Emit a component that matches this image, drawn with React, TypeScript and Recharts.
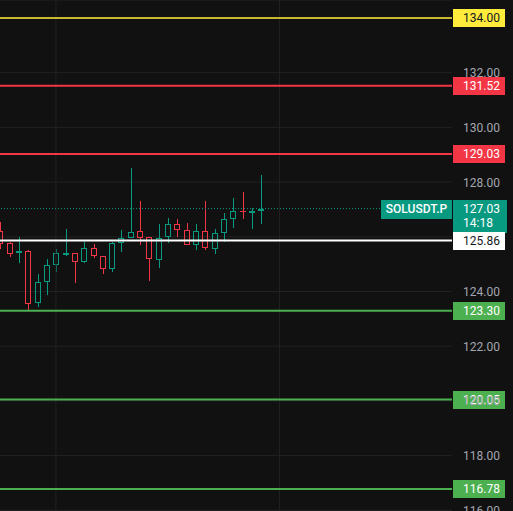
import React from 'react';
import { ComposedChart, Bar, XAxis, YAxis, CartesianGrid, ReferenceLine } from 'recharts';

const opens = [126.21, 125.77, 125.41, 125.48, 123.58, 124.35, 124.97, 125.33, 125.41, 125.08, 125.59, 125.30, 124.82, 125.77, 125.96, 126.21, 126.00, 125.15, 126.00, 126.47, 126.25, 125.70, 126.21, 125.55, 126.14, 126.65, 126.94, 126.91, 126.94];
const closes = [125.74, 125.37, 125.48, 123.54, 124.35, 124.97, 125.41, 125.41, 125.08, 125.59, 125.30, 124.82, 125.77, 125.96, 126.18, 125.96, 125.19, 125.96, 126.47, 126.25, 125.70, 126.21, 125.59, 126.14, 126.65, 126.94, 126.93, 126.94, 127.03];
const highs = [126.54, 125.81, 126.00, 125.52, 124.64, 125.19, 125.55, 126.29, 125.41, 125.81, 125.74, 125.30, 125.81, 126.25, 128.51, 127.31, 126.00, 126.47, 126.69, 126.65, 126.51, 126.47, 127.31, 126.29, 126.87, 127.42, 127.64, 127.05, 128.26];
const lows = [125.55, 125.26, 125.04, 123.29, 123.43, 123.87, 124.71, 125.30, 124.31, 125.04, 125.23, 124.64, 124.71, 125.44, 125.96, 125.70, 124.38, 124.86, 125.77, 126.00, 125.70, 125.52, 125.52, 125.37, 125.81, 126.32, 126.65, 126.29, 126.47];

const priceTicks = [116, 118, 120, 122, 124, 126, 128, 130, 132, 134];
const coveredTicks = [126, 134];
const timeGrid = [6, 30];

const levelValues = [134.0, 131.52, 129.03, 125.86, 123.3, 120.05, 116.78];
const levelKinds = ['yellow', 'red', 'red', 'white', 'green', 'green', 'green'];
const lastPrice = 127.03;
const symbol = 'SOLUSDT.P';
const countdown = '14:18';

const rows = opens.map((o, i) => ({ i, o, c: closes[i], h: highs[i], l: lows[i] }));

const UP = '#089981';
const DOWN = '#f23645';
const BG = '#111111';
const GRID = '#222222';
const FONT = 'Roboto, "Noto Sans", sans-serif';

const kindStyle: Record<string, { line: string; box: string; text: string }> = {
  yellow: { line: '#c9b730', box: '#ffeb3b', text: '#131722' },
  red: { line: '#f23645', box: '#f23645', text: '#ffffff' },
  green: { line: '#4caf50', box: '#4caf50', text: '#ffffff' },
  white: { line: '#ffffff', box: '#ffffff', text: '#131722' },
};

const Candle = (props: any) => {
  const { x, y, width, height, payload } = props;
  if (x == null || y == null) return null;
  const { o, c, h, l } = payload;
  const top = Math.min(y, y + height);
  const hp = Math.abs(height);
  const ppu = h - l > 0 ? hp / (h - l) : 0;
  const color = c >= o ? UP : DOWN;
  const px = Math.round(x + width / 2);
  const bTop = Math.round(top + (h - Math.max(o, c)) * ppu);
  const bBot = Math.round(top + (h - Math.min(o, c)) * ppu);
  const wTop = Math.round(top);
  const wBot = Math.round(top + hp);
  const parts: any[] = [];
  if (bTop > wTop) parts.push(<line key="w1" x1={px + 0.5} x2={px + 0.5} y1={wTop} y2={bTop} stroke={color} strokeWidth={1} />);
  if (wBot > bBot) parts.push(<line key="w2" x1={px + 0.5} x2={px + 0.5} y1={bBot} y2={wBot} stroke={color} strokeWidth={1} />);
  if (bBot - bTop <= 1) {
    parts.push(<rect key="b" x={px - 3} y={bTop} width={6} height={Math.max(1, bBot - bTop + 1)} fill={color} />);
  } else {
    parts.push(<rect key="b" x={px - 3 + 0.5} y={bTop + 0.5} width={5} height={bBot - bTop - 1} fill="none" stroke={color} strokeWidth={1} />);
  }
  return <g>{parts}</g>;
};

const PriceTick = (props: any) => {
  const { y, payload } = props;
  if (coveredTicks.includes(payload.value)) return null;
  return (
    <text x={463} y={y + 4.5} fill="#a3a6af" fontSize={12} fontFamily={FONT} textAnchor="start">
      {payload.value.toFixed(2)}
    </text>
  );
};

const levelLabel = (value: number, kind: string) => (props: any) => {
  const vb = props.viewBox || {};
  const ly = vb.y;
  const bx = vb.x + vb.width + 1;
  const s = kindStyle[kind];
  return (
    <g>
      <rect x={bx} y={Math.round(ly) - 9} width={52} height={18} fill={s.box} />
      <text x={bx + 10} y={ly + 4.5} fill={s.text} fontSize={12} fontFamily={FONT} textAnchor="start">
        {value.toFixed(2)}
      </text>
    </g>
  );
};

const lastLabel = (props: any) => {
  const vb = props.viewBox || {};
  const ly = vb.y;
  const right = vb.x + vb.width;
  const top = Math.round(ly) - 9;
  return (
    <g>
      <rect x={right - 71} y={top} width={71} height={19} fill={UP} />
      <text x={right - 35.5} y={ly + 4.5} fill="#ffffff" fontSize={12} fontWeight={500} fontFamily={FONT} textAnchor="middle">
        {symbol}
      </text>
      <rect x={right + 1} y={top} width={54} height={33} fill={UP} />
      <text x={right + 11} y={ly + 4.5} fill="#ffffff" fontSize={12} fontFamily={FONT} textAnchor="start">
        {lastPrice.toFixed(2)}
      </text>
      <text x={right + 11} y={ly + 18} fill="#ffffff" fontSize={12} fontFamily={FONT} textAnchor="start">
        {countdown}
      </text>
    </g>
  );
};

export default function App() {
  return (
    <div style={{ position: 'absolute', left: 0, top: 0, width: 513, height: 511, background: BG, overflow: 'hidden' }}>
      <ComposedChart width={513} height={511} data={rows} margin={{ top: 0, right: 0, left: 0, bottom: 0 }}>
        <CartesianGrid stroke={GRID} vertical={false} />
        <XAxis dataKey="i" type="number" domain={[0, 48.5]} allowDataOverflow hide />
        <YAxis
          orientation="right"
          width={61}
          type="number"
          domain={[115.974, 134.658]}
          allowDataOverflow
          ticks={priceTicks}
          axisLine={false}
          tickLine={false}
          tick={<PriceTick />}
          interval={0}
        />
        {timeGrid.map((t) => (
          <ReferenceLine key={'t' + t} x={t} stroke={GRID} strokeWidth={1} />
        ))}
        <ReferenceLine y={lastPrice} stroke={UP} strokeWidth={1} strokeDasharray="1 2" label={lastLabel} />
        <Bar dataKey={(d: any) => [d.l, d.h]} barSize={6} shape={<Candle />} isAnimationActive={false} />
        {levelValues.map((v, k) => (
          <ReferenceLine
            key={'lv' + k}
            y={v}
            stroke={kindStyle[levelKinds[k]].line}
            strokeWidth={2}
            label={levelLabel(v, levelKinds[k])}
          />
        ))}
      </ComposedChart>
    </div>
  );
}
